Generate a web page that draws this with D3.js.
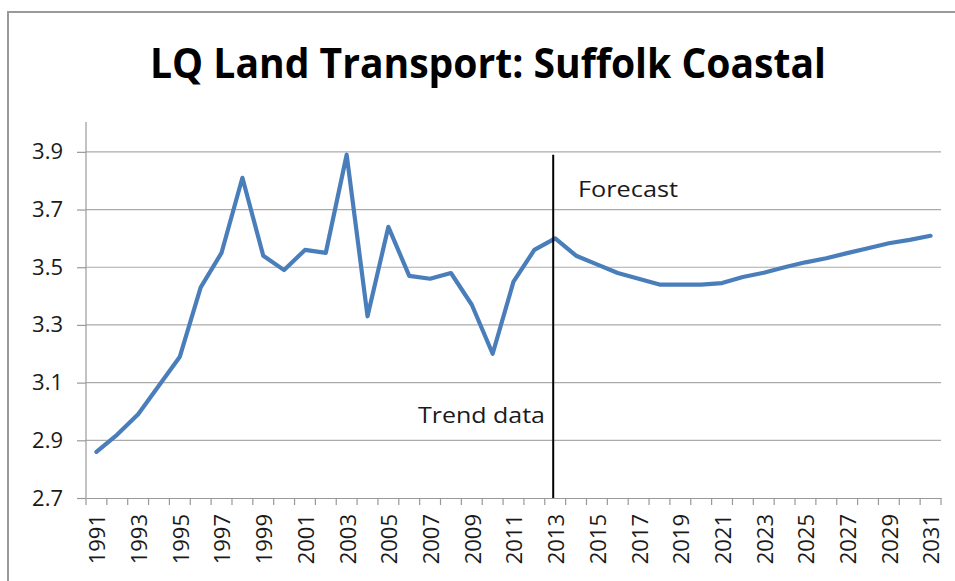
<!DOCTYPE html>
<html>
<head>
<meta charset="utf-8">
<script src="https://cdn.jsdelivr.net/npm/d3@7"></script>
<style>
  body { margin: 0; background: #fff; }
  text { font-family: "Open Sans", sans-serif; fill: #1a1a1a; }
</style>
</head>
<body>
<div class="canvas"></div>
<script>
const years = d3.range(1991, 2032).map(String);
const lqValues = [
  2.86, 2.92, 2.99, 3.09, 3.19, 3.43, 3.55, 3.81, 3.54, 3.49,
  3.56, 3.55, 3.89, 3.33, 3.64, 3.47, 3.46, 3.48, 3.37, 3.20,
  3.45, 3.56, 3.60, 3.54, 3.51, 3.48, 3.46, 3.44, 3.44, 3.44,
  3.445, 3.466, 3.481, 3.50, 3.517, 3.531, 3.549, 3.566, 3.583, 3.595,
  3.609
];
const yTicks = [2.7, 2.9, 3.1, 3.3, 3.5, 3.7, 3.9];
const xLabels = years.filter((d, i) => i % 2 === 0);
const splitYear = "2013";

const width = 955, height = 581;
const margin = {top: 123, right: 14, bottom: 83, left: 86};

const svg = d3.select(".canvas")
  .append("svg")
  .attr("width", width)
  .attr("height", height);

// outer frame
svg.append("rect")
  .attr("x", 8).attr("y", 12)
  .attr("width", 960).attr("height", 600)
  .attr("fill", "none")
  .attr("stroke", "#9a9a9a")
  .attr("stroke-width", 2);

svg.append("text")
  .attr("x", 150).attr("y", 78)
  .attr("textLength", 676)
  .attr("lengthAdjust", "spacingAndGlyphs")
  .style("font-size", "42px")
  .style("font-weight", "bold")
  .style("fill", "#000")
  .text("LQ Land Transport: Suffolk Coastal");

const x = d3.scaleBand()
  .domain(years)
  .range([margin.left, width - margin.right]);

const y = d3.scaleLinear()
  .domain([2.7, 4.0])
  .range([height - margin.bottom, margin.top]);

const cx = d => x(d) + x.bandwidth() / 2;

// horizontal grid
svg.append("g")
  .selectAll("line")
  .data(yTicks.slice(1))
  .enter().append("line")
  .attr("x1", margin.left).attr("x2", width - margin.right)
  .attr("y1", d => y(d)).attr("y2", d => y(d))
  .attr("stroke", "#ababab")
  .attr("stroke-width", 1.2);

// y axis
const yAxis = d3.axisLeft(y)
  .tickValues(yTicks)
  .tickFormat(d3.format(".1f"))
  .tickSize(9)
  .tickPadding(14);

const yAxisGroup = svg.append("g")
  .attr("transform", `translate(${margin.left},0)`)
  .call(yAxis);
yAxisGroup.select(".domain").remove();
yAxisGroup.selectAll(".tick line").attr("stroke", "#999").attr("stroke-width", 1.2);
yAxisGroup.selectAll(".tick text").style("font-size", "22px").attr("fill", "#1a1a1a");
yAxisGroup.append("line")
  .attr("x1", 0).attr("x2", 0)
  .attr("y1", margin.top - 1).attr("y2", y(2.7))
  .attr("stroke", "#999").attr("stroke-width", 1.2);

// x axis
const xAxis = d3.axisBottom(x)
  .tickValues(xLabels)
  .tickSize(0)
  .tickPadding(0);

const xAxisGroup = svg.append("g")
  .attr("transform", `translate(0,${y(2.7)})`)
  .call(xAxis);
xAxisGroup.select(".domain").attr("stroke", "#999").attr("stroke-width", 1.2);
xAxisGroup.selectAll(".tick text")
  .style("font-size", "22px")
  .attr("fill", "#1a1a1a")
  .attr("text-anchor", "end")
  .attr("transform", "translate(1,16) rotate(-90)")
  .attr("x", 0).attr("y", 0)
  .attr("dy", "0.36em");

// x tick marks between categories
xAxisGroup.selectAll(".sep")
  .data(years.concat(["end"]))
  .enter().append("line")
  .attr("class", "sep")
  .attr("x1", (d, i) => margin.left + i * x.step())
  .attr("x2", (d, i) => margin.left + i * x.step())
  .attr("y1", 0).attr("y2", 7)
  .attr("stroke", "#999").attr("stroke-width", 1.2);

// data line
const line = d3.line()
  .x((d, i) => cx(years[i]))
  .y(d => y(d));

svg.append("path")
  .datum(lqValues)
  .attr("d", line)
  .attr("fill", "none")
  .attr("stroke", "#4a7ebb")
  .attr("stroke-width", 4.2)
  .attr("stroke-linejoin", "round")
  .attr("stroke-linecap", "round");

// trend / forecast divider
svg.append("line")
  .attr("x1", cx(splitYear) - 2).attr("x2", cx(splitYear) - 2)
  .attr("y1", y(3.89)).attr("y2", y(2.7))
  .attr("stroke", "#000")
  .attr("stroke-width", 2);

svg.append("text")
  .attr("x", 578).attr("y", 197)
  .attr("textLength", 100)
  .attr("lengthAdjust", "spacingAndGlyphs")
  .style("font-size", "22px")
  .text("Forecast");

svg.append("text")
  .attr("x", 418).attr("y", 423)
  .attr("textLength", 127)
  .attr("lengthAdjust", "spacingAndGlyphs")
  .style("font-size", "22px")
  .text("Trend data");
</script>
</body>
</html>
